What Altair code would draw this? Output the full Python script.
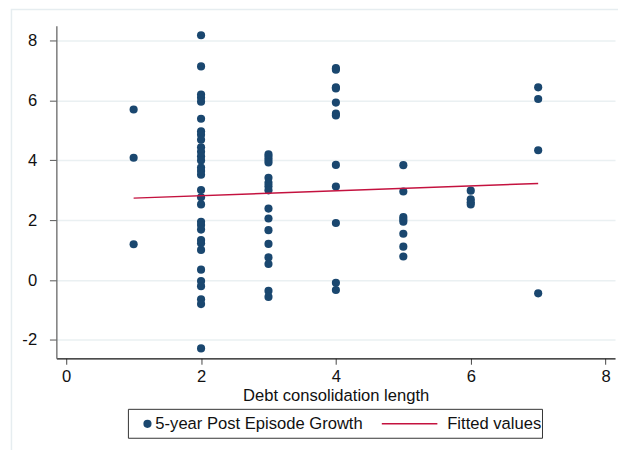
import altair as alt
import pandas as pd

# Debt consolidation length (x) and 5-year post-episode growth (y), grouped by length
growth_len1 = [5.70, 4.09, 1.20]
growth_len2 = [8.18, 7.14, 6.20, 6.09, 5.96, 5.39, 4.97, 4.86, 4.69, 4.44, 4.29,
               4.14, 4.00, 3.76, 3.65, 3.52, 3.01, 2.77, 2.53, 1.95, 1.84, 1.69,
               1.34, 1.23, 1.01, 0.35, -0.03, -0.20, -0.64, -0.80, -2.28]
growth_len3 = [4.20, 4.11, 4.02, 3.93, 3.42, 3.25, 3.14, 3.00, 2.39, 2.06, 1.67,
               1.21, 0.76, 0.54, -0.36, -0.56]
growth_len4 = [7.08, 7.03, 6.44, 6.40, 5.93, 5.56, 5.50, 3.85, 3.13, 1.91, -0.09, -0.33]
growth_len5 = [3.84, 2.96, 2.11, 2.03, 1.95, 1.55, 1.12, 0.79]
growth_len6 = [2.99, 2.70, 2.60, 2.53]
growth_len7 = [6.44, 6.05, 4.34, -0.44]

lengths = [1, 2, 3, 4, 5, 6, 7]
groups = [growth_len1, growth_len2, growth_len3, growth_len4,
          growth_len5, growth_len6, growth_len7]

# Fitted values (linear fit)
fit_x = [1, 7]
fit_y = [2.74, 3.23]

x_ticks = [0, 2, 4, 6, 8]
y_ticks = [-2, 0, 2, 4, 6, 8]

legend_labels = ["5-year Post Episode Growth", "Fitted values"]

rows = []
for L, g in zip(lengths, groups):
    for v in g:
        rows.append({"length": L, "growth": v})
pts = pd.DataFrame(rows)
fit = pd.DataFrame({"length": fit_x, "growth": fit_y})

FONT = "Liberation Sans"
FS = 16.8
NAVY = "#1a476f"
RED = "#c4123f"

xscale = alt.Scale(domain=[-0.146, 8.14], nice=False, zero=False)
yscale = alt.Scale(domain=[-2.61, 8.5], nice=False, zero=False)

xaxis = alt.Axis(values=x_ticks, title="Debt consolidation length", grid=False,
                 labelExpr="'' + datum.value",
                 domainColor="#111", domainWidth=1.3, tickColor="#444", tickSize=6,
                 labelFontSize=FS, labelPadding=4, titleFontSize=FS,
                 titleFontWeight="normal", titlePadding=3, labelFont=FONT,
                 titleFont=FONT, labelColor="#111", titleColor="#111")
yaxis = alt.Axis(values=y_ticks, title=None, grid=True, gridColor="#eaf0f2",
                 labelExpr="'' + datum.value",
                 gridWidth=1.5, domainColor="#666", domainWidth=1.3,
                 tickColor="#555", tickSize=7, labelFontSize=FS, labelPadding=13,
                 labelFont=FONT, labelColor="#111")

one = pd.DataFrame({"a": [0]})

frame = alt.Chart(one).mark_rect(fillOpacity=0, stroke="#e6edf0", strokeWidth=1.5).encode(
    x=alt.value(-45.5), x2=alt.value(640), y=alt.value(-16.3), y2=alt.value(480))

points = alt.Chart(pts).mark_circle(size=68, color=NAVY, opacity=1).encode(
    x=alt.X("length:Q", scale=xscale, axis=xaxis),
    y=alt.Y("growth:Q", scale=yscale, axis=yaxis))

line = alt.Chart(fit).mark_line(color=RED, strokeWidth=1.5).encode(
    x=alt.X("length:Q", scale=xscale),
    y=alt.Y("growth:Q", scale=yscale))

leg_box = alt.Chart(one).mark_rect(fill="white", stroke="#333", strokeWidth=1).encode(
    x=alt.value(73), x2=alt.value(492.5), y=alt.value(388.7), y2=alt.value(418))
leg_dot = alt.Chart(one).mark_circle(size=68, color=NAVY, opacity=1).encode(
    x=alt.value(92.3), y=alt.value(403.4))
leg_line = alt.Chart(one).mark_rule(color=RED, strokeWidth=1.5).encode(
    x=alt.value(329.7), x2=alt.value(386), y=alt.value(403.4))
leg_text = alt.Chart(pd.DataFrame({"label": legend_labels, "xp": [100.3, 396]})).mark_text(
    align="left", baseline="middle", fontSize=FS, font=FONT, color="#111").encode(
    x=alt.X("xp:Q", scale=None), y=alt.value(403.4), text="label:N")

chart = alt.layer(frame, points, line, leg_box, leg_dot, leg_line, leg_text).properties(
    width=566, height=337,
    padding={"left": 49, "top": 15, "right": 3, "bottom": 90},
    autosize=alt.AutoSizeParams(type="none"),
    background="white",
).configure_view(stroke=None)

chart.save("out.html", embed_options={"renderer": "svg", "actions": False})
